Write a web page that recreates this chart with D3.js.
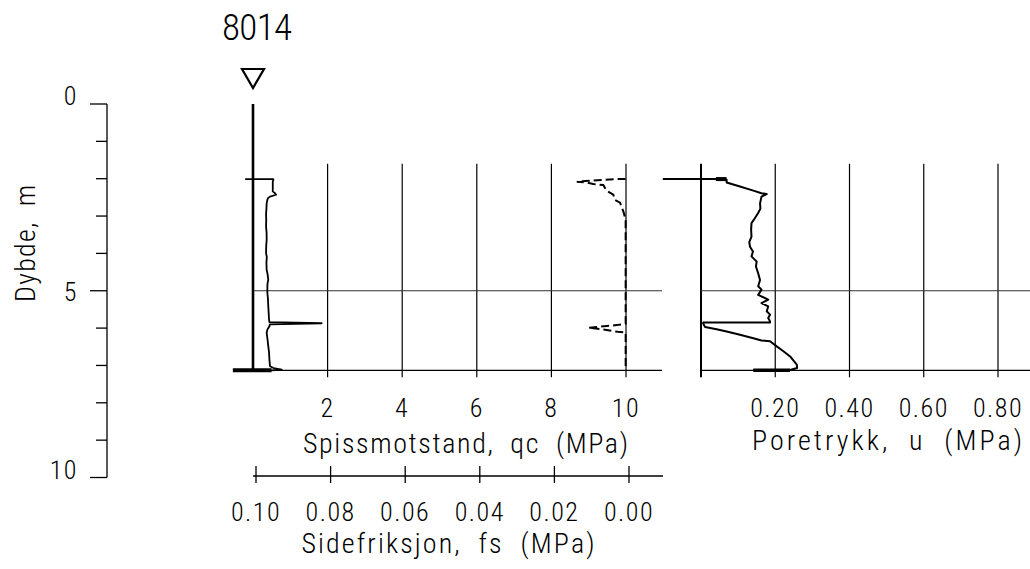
<!DOCTYPE html>
<html>
<head>
<meta charset="utf-8">
<script src="https://cdn.jsdelivr.net/npm/d3@7"></script>
<style>
  html, body { margin: 0; padding: 0; background: #fff; }
  svg { display: block; }
  text { font-family: "Roboto Condensed", "Roboto", sans-serif; font-weight: 300; fill: #000; }
  .tick-label { letter-spacing: 1.5px; }
</style>
</head>
<body>
<svg id="chart" width="1030" height="569"></svg>
<script>
// Sounding 8014: cone resistance, sleeve friction and pore pressure vs depth
const boreholeId = "8014";
const startDepth = 2.01;   // m, start of the sounding
const endDepth = 7.13;     // m, stop depth
const gridTopDepth = 1.6;  // m, top of the plotting grid

const depthTicks = [0, 1, 2, 3, 4, 5, 6, 7, 8, 9, 10];
const depthLabels = [0, 5, 10];
const qcTicks = [2, 4, 6, 8, 10];
const fsTicks = [0.10, 0.08, 0.06, 0.04, 0.02, 0.00];
const uTicks = [0.20, 0.40, 0.60, 0.80];

// Cone resistance qc (MPa) against depth (m)
const qcDepth = [2.01, 2.01, 2.03, 2.08, 2.20, 2.34, 2.39, 2.43, 2.48, 2.52, 2.57, 2.66, 2.80, 2.95, 3.10,
  3.28, 3.45, 3.64, 3.80, 3.99, 4.10, 4.25, 4.44, 4.55, 4.71, 4.80, 4.89, 5.06, 5.20, 5.42, 5.60, 5.77,
  5.84, 5.87, 5.90, 5.95, 6.04, 6.13, 6.31, 6.49, 6.65, 6.84, 7.02, 7.07, 7.11, 7.13];
const qcValue = [-0.21, 0.545, 0.545, 0.53, 0.53, 0.53, 0.59, 0.62, 0.455, 0.40, 0.385, 0.366, 0.36, 0.35, 0.355,
  0.35, 0.365, 0.366, 0.355, 0.35, 0.37, 0.36, 0.366, 0.39, 0.41, 0.39, 0.385, 0.385, 0.40, 0.41, 0.42, 0.43,
  0.44, 1.84, 0.45, 0.44, 0.385, 0.366, 0.39, 0.41, 0.43, 0.44, 0.455, 0.55, 0.77, 0.50];
const qcStop = [-0.54, 0.50];

// Sleeve friction fs (MPa), reversed axis
const fsDepth = [2.01, 2.01, 2.08, 2.10, 2.14, 2.17, 2.32, 2.43, 2.57, 2.64, 2.75, 2.88, 3.10,
  5.88, 5.92, 5.99, 6.05, 6.10, 6.12, 7.13];
const fsValue = [0.0009, 0.0033, 0.0140, 0.0113, 0.0096, 0.0069, 0.0060, 0.0042, 0.0038, 0.0024, 0.0020, 0.0015, 0.0009,
  0.0009, 0.0033, 0.0109, 0.0060, 0.0030, 0.0009, 0.0009];

// Pore pressure u (MPa)
const uDepth = [2.01, 2.01, 2.03, 2.10, 2.21, 2.32, 2.39, 2.41, 2.48, 2.66, 2.80, 2.92, 3.06, 3.19, 3.37,
  3.55, 3.70, 3.82, 3.95, 4.08, 4.22, 4.35, 4.53, 4.71, 4.88, 4.97, 5.11, 5.24, 5.33, 5.42, 5.55, 5.64,
  5.73, 5.82, 5.85, 5.85, 5.88, 5.97, 6.03, 6.09, 6.18, 6.27, 6.33, 6.35, 6.49, 6.62, 6.76, 6.98, 7.07,
  7.12, 7.13];
const uValue = [-0.103, 0.056, 0.069, 0.069, 0.105, 0.141, 0.163, 0.177, 0.163, 0.159, 0.160, 0.154, 0.145, 0.136, 0.135,
  0.136, 0.130, 0.132, 0.140, 0.136, 0.150, 0.148, 0.154, 0.159, 0.154, 0.163, 0.154, 0.181, 0.163, 0.181, 0.177, 0.186,
  0.181, 0.186, 0.186, 0.006, 0.006, 0.011, 0.042, 0.069, 0.105, 0.141, 0.163, 0.186, 0.204, 0.222, 0.240, 0.258, 0.259,
  0.240, 0.141];
const uStart = [0.040, 0.069];
const uStop = [0.141, 0.240];

const svg = d3.select("#chart");

const y = d3.scaleLinear().domain([0, 10]).range([104, 477.5]);
const xQc = d3.scaleLinear().domain([0, 10]).range([253, 626]);
const xFs = d3.scaleLinear().domain([0.10, 0]).range([256, 629]);
const xU = d3.scaleLinear().domain([0, 0.8]).range([701, 998]);

const leftEnd = 662, rightEnd = 1030;
const tickOver = 7;

// Axis title helper: text stretched to a fixed run length
function title(sel, x, yPos, str, len, size) {
  return sel.append("text").attr("x", x).attr("y", yPos).attr("text-anchor", "middle")
    .attr("font-size", size).attr("textLength", len).attr("lengthAdjust", "spacing")
    .style("white-space", "pre").text(str);
}

// ---- depth axis
const dAxis = svg.append("g");
dAxis.append("line").attr("x1", 107).attr("x2", 107).attr("y1", y(0)).attr("y2", y(10))
  .attr("stroke", "#000").attr("stroke-width", 1.3);
dAxis.selectAll("line.tk").data(depthTicks).join("line").attr("class", "tk")
  .attr("x1", d => depthLabels.includes(d) ? 90 : 96).attr("x2", 107)
  .attr("y1", d => y(d)).attr("y2", d => y(d))
  .attr("stroke", "#000").attr("stroke-width", 1.3);
dAxis.selectAll("text").data(depthLabels).join("text").attr("class", "tick-label")
  .attr("x", 78).attr("y", d => y(d) + (d === 5 ? 10 : 1))
  .attr("text-anchor", "end").attr("font-size", 26).text(d => d);
svg.append("g").attr("transform", "translate(35,243.5) rotate(-90)")
  .call(g => title(g, 0, 0, "Dybde,  m", 117, 28));

// ---- title and groundwater marker
svg.append("text").attr("x", 222).attr("y", 40).attr("font-size", 37)
  .attr("textLength", 70).attr("lengthAdjust", "spacing").text(boreholeId);
const tri = d3.path();
tri.moveTo(xQc(0) - 11, 69); tri.lineTo(xQc(0) + 11, 69); tri.lineTo(xQc(0), 88); tri.closePath();
svg.append("path").attr("d", tri.toString()).attr("fill", "none").attr("stroke", "#000").attr("stroke-width", 2.2);

// ---- left panel (qc / fs)
const gL = svg.append("g");
gL.selectAll("line.grid").data(qcTicks).join("line").attr("class", "grid")
  .attr("x1", d => xQc(d)).attr("x2", d => xQc(d))
  .attr("y1", y(gridTopDepth)).attr("y2", y(endDepth) + tickOver)
  .attr("stroke", "#000").attr("stroke-width", 1.2);
gL.append("line").attr("x1", xQc(0)).attr("x2", leftEnd).attr("y1", y(5)).attr("y2", y(5))
  .attr("stroke", "#333").attr("stroke-width", 1);
gL.append("line").attr("x1", xQc(0)).attr("x2", leftEnd).attr("y1", y(endDepth)).attr("y2", y(endDepth))
  .attr("stroke", "#000").attr("stroke-width", 1.3);
gL.append("line").attr("x1", xQc(0)).attr("x2", xQc(0)).attr("y1", y(0)).attr("y2", y(endDepth))
  .attr("stroke", "#000").attr("stroke-width", 2.6);
gL.selectAll("text.tl").data(qcTicks).join("text").attr("class", "tl tick-label")
  .attr("x", d => xQc(d)).attr("y", 417).attr("text-anchor", "middle").attr("font-size", 26).text(d => d);
title(gL, 465.5, 453, "Spissmotstand,  qc  (MPa)", 325, 28);

// fs axis
const fsY = 476;
gL.append("line").attr("x1", 253).attr("x2", 663).attr("y1", fsY).attr("y2", fsY)
  .attr("stroke", "#000").attr("stroke-width", 1.3);
gL.selectAll("line.fst").data(fsTicks).join("line").attr("class", "fst")
  .attr("x1", d => xFs(d)).attr("x2", d => xFs(d)).attr("y1", fsY - 10).attr("y2", fsY + 7)
  .attr("stroke", "#000").attr("stroke-width", 1.3);
gL.selectAll("text.fsl").data(fsTicks).join("text").attr("class", "fsl tick-label")
  .attr("x", d => xFs(d)).attr("y", 521).attr("text-anchor", "middle").attr("font-size", 26)
  .text(d => d.toFixed(2));
title(gL, 448, 553, "Sidefriksjon,  fs  (MPa)", 293, 28);

// qc curve
const qcPts = qcDepth.map((d, i) => [xQc(qcValue[i]), y(d)]);
gL.append("path").attr("d", d3.line()(qcPts)).attr("fill", "none").attr("stroke", "#000")
  .attr("stroke-width", 1.8).attr("stroke-linejoin", "round");
gL.append("line").attr("x1", xQc(qcStop[0])).attr("x2", xQc(qcStop[1]))
  .attr("y1", y(endDepth)).attr("y2", y(endDepth)).attr("stroke", "#000").attr("stroke-width", 4);

// fs curve (dashed)
const fsPts = fsDepth.map((d, i) => [xFs(fsValue[i]), y(d)]);
gL.append("path").attr("d", d3.line()(fsPts)).attr("fill", "none").attr("stroke", "#000")
  .attr("stroke-width", 2).attr("stroke-dasharray", "8,4");

// ---- right panel (u)
const gR = svg.append("g");
gR.selectAll("line.grid").data(uTicks).join("line").attr("class", "grid")
  .attr("x1", d => xU(d)).attr("x2", d => xU(d))
  .attr("y1", y(gridTopDepth)).attr("y2", y(endDepth) + tickOver)
  .attr("stroke", "#000").attr("stroke-width", 1.2);
gR.append("line").attr("x1", xU(0)).attr("x2", xU(0))
  .attr("y1", y(gridTopDepth)).attr("y2", y(endDepth) + tickOver)
  .attr("stroke", "#000").attr("stroke-width", 2);
gR.append("line").attr("x1", xU(0)).attr("x2", rightEnd).attr("y1", y(5)).attr("y2", y(5))
  .attr("stroke", "#333").attr("stroke-width", 1);
gR.append("line").attr("x1", xU(0)).attr("x2", rightEnd).attr("y1", y(endDepth)).attr("y2", y(endDepth))
  .attr("stroke", "#000").attr("stroke-width", 1.3);
gR.selectAll("text.tl").data(uTicks).join("text").attr("class", "tl tick-label")
  .attr("x", d => xU(d)).attr("y", 417).attr("text-anchor", "middle").attr("font-size", 26)
  .text(d => d.toFixed(2));
title(gR, 887, 450, "Poretrykk,  u  (MPa)", 270, 28);

const uPts = uDepth.map((d, i) => [xU(uValue[i]), y(d)]);
gR.append("path").attr("d", d3.line()(uPts)).attr("fill", "none").attr("stroke", "#000")
  .attr("stroke-width", 2).attr("stroke-linejoin", "round");
gR.append("line").attr("x1", xU(uStart[0])).attr("x2", xU(uStart[1]))
  .attr("y1", y(startDepth)).attr("y2", y(startDepth)).attr("stroke", "#000").attr("stroke-width", 4);
gR.append("line").attr("x1", xU(uStop[0])).attr("x2", xU(uStop[1]))
  .attr("y1", y(endDepth)).attr("y2", y(endDepth)).attr("stroke", "#000").attr("stroke-width", 3.5);
</script>
</body>
</html>
